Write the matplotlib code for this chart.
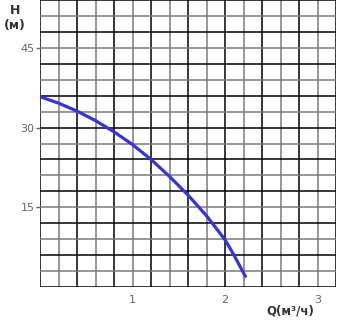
import numpy as np
import matplotlib
matplotlib.use("Agg")
import matplotlib.pyplot as plt

# ---------------- DATA ----------------
flow = [0.0, 0.2, 0.4, 0.6, 0.8, 1.0, 1.2, 1.4, 1.6, 1.8, 2.0, 2.1, 2.22]   # Q, m3/h
head = [35.8, 34.6, 33.1, 31.3, 29.2, 26.8, 24.0, 20.8, 17.3, 13.4, 8.9, 5.9, 2.0]  # H, m

x_ticks = [1, 2, 3]
y_ticks = [15, 30, 45]
x_max = 3.2
y_max = 54

# ---------------- FIGURE ----------------
fig = plt.figure(figsize=(3.37, 3.20), dpi=100)
ax = fig.add_axes([40 / 337, 33 / 320, 296 / 337, 287 / 320])
ax.set_xlim(0, x_max)
ax.set_ylim(0, y_max)

# grid: alternating black / grey lines, like the scanned sheet
for i, gx in enumerate(np.arange(0, x_max + 0.01, 0.2)):
    ax.axvline(gx, color="black" if i % 2 == 0 else "#7a7a7a", lw=1.1, zorder=1)
for i, gy in enumerate(np.arange(0, y_max + 0.01, 3)):
    ax.axhline(gy, color="black" if i % 2 == 0 else "#7a7a7a", lw=1.1, zorder=1)

for s in ax.spines.values():
    s.set_visible(False)

ax.plot(flow, head, color="#3535d5", lw=2.3, solid_capstyle="round",
        solid_joinstyle="round", zorder=3)

ax.set_xticks(x_ticks)
ax.set_xticklabels([str(t) for t in x_ticks])
ax.set_yticks(y_ticks)
ax.set_yticklabels([str(t) for t in y_ticks])
ax.tick_params(axis="x", length=0, pad=6, labelsize=8, labelcolor="#666666")
ax.tick_params(axis="y", length=3, width=1, color="#666666", pad=1,
               labelsize=8, labelcolor="#666666")

fig.text(15 / 337, 1 - 10 / 320, "H", ha="center", va="center",
         fontsize=9, fontweight="bold", color="#333333")
fig.text(15 / 337, 1 - 25 / 320, "(м)", ha="center", va="center",
         fontsize=9, fontweight="bold", color="#333333")
fig.text(290 / 337, 1 - 311 / 320, "Q(м³/ч)", ha="center", va="center",
         fontsize=8.5, fontweight="bold", color="#333333")

fig.savefig("out.png", dpi=100)
